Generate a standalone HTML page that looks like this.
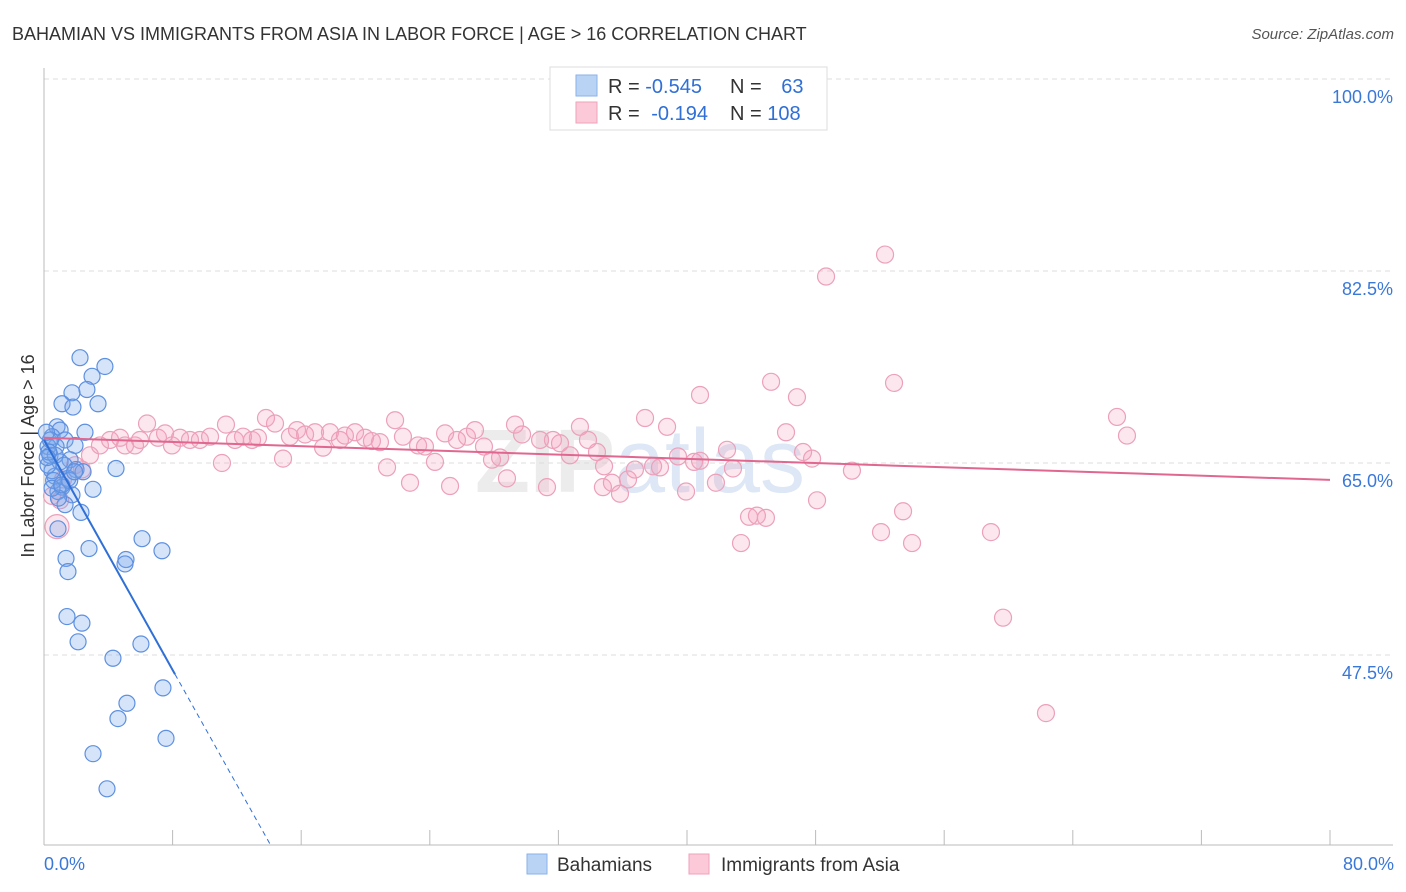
<!DOCTYPE html>
<html><head><meta charset="utf-8"><style>
body{margin:0;background:#fff;font-family:"Liberation Sans",sans-serif;}
svg{display:block}
</style></head><body>
<svg id="c" width="1406" height="892" xmlns="http://www.w3.org/2000/svg">
<text x="12" y="40" font-size="18" fill="#333">BAHAMIAN VS IMMIGRANTS FROM ASIA IN LABOR FORCE | AGE &gt; 16 CORRELATION CHART</text>
<text x="1394" y="39" font-size="15" fill="#555" font-style="italic" text-anchor="end">Source: ZipAtlas.com</text>
<text transform="translate(34,456) rotate(-90)" font-size="18" fill="#333" text-anchor="middle">In Labor Force | Age &gt; 16</text>
<text x="640" y="492" font-size="90" font-weight="bold" fill="#ececec" text-anchor="middle">ZIP<tspan fill="#dde7f5" font-weight="normal">atlas</tspan></text>
<g id="grid"></g><g id="axes"></g><g id="pts"></g><g id="lines"></g>
<g>
<rect x="550" y="67" width="277" height="63" fill="#fff" stroke="#ddd"/>
<rect x="576" y="75" width="21" height="21" fill="#b9d3f5" stroke="#8ab1ea"/>
<rect x="576" y="102" width="21" height="21" fill="#fbc9d8" stroke="#f0a2bb"/>
<text x="608" y="93" font-size="20" fill="#333">R = <tspan fill="#2f6fd6">-0.545</tspan></text>
<text x="730" y="93" font-size="20" fill="#333">N = <tspan fill="#2f6fd6" dx="14">63</tspan></text>
<text x="608" y="120" font-size="20" fill="#333">R = <tspan fill="#2f6fd6" dx="6">-0.194</tspan></text>
<text x="730" y="120" font-size="20" fill="#333">N = <tspan fill="#2f6fd6">108</tspan></text>
</g>
<g>
<rect x="527" y="854" width="20" height="20" fill="#b9d3f5" stroke="#8ab1ea"/>
<text x="557" y="871" font-size="19" fill="#333">Bahamians</text>
<rect x="689" y="854" width="20" height="20" fill="#fbc9d8" stroke="#f0a2bb"/>
<text x="721" y="871" font-size="19" fill="#333">Immigrants from Asia</text>
</g>
</svg>
<script>
const yTicks=[100,82.5,65,47.5];
const yTickLabels=["100.0%","82.5%","65.0%","47.5%"];
const xTickLabels=["0.0%","80.0%"];
const blueX=[2.24,3.79,2.99,2.67,1.74,1.12,1.80,3.36,0.81,1.00,2.55,0.50,1.31,1.93,0.75,0.25,0.37,1.62,1.99,4.48,2.43,0.68,1.49,1.12,3.05,0.87,1.74,1.31,2.30,0.87,2.80,6.10,7.34,5.10,5.04,1.37,1.49,1.43,2.36,2.12,6.03,4.29,7.40,5.16,4.60,7.59,3.05,3.92,0.5,0.6,1.0,0.25,0.4,0.7,1.25,1.6,1.9,0.15,0.9,0.5,0.3,0.2,1.1];
const blueY=[74.6,73.8,72.9,71.7,71.4,70.4,70.1,70.4,68.3,68.0,67.8,67.4,67.1,66.6,66.5,66.5,65.7,65.3,64.4,64.5,64.2,63.8,63.6,62.8,62.6,62.4,62.1,61.2,60.5,59.0,57.2,58.1,57.0,56.2,55.8,56.3,55.1,51.0,50.4,48.7,48.5,47.2,44.5,43.1,41.7,39.9,38.5,35.3,64.3,63.4,65.1,64.8,67.1,65.7,64.8,63.4,64.2,67.8,61.8,62.7,66.0,65.5,63.0];
const pinkX=[0.81,1.0,1.18,1.93,2.36,2.86,3.48,4.11,4.73,5.04,5.66,5.97,6.41,7.09,7.53,7.96,8.46,9.08,9.70,10.33,11.07,11.32,11.88,12.38,12.94,13.31,13.81,14.37,14.87,15.30,15.74,16.24,16.86,17.36,17.79,18.41,18.72,19.35,19.97,20.40,20.90,21.34,21.84,22.33,22.77,23.27,23.70,24.32,24.95,25.26,25.69,26.31,26.81,27.37,27.87,28.37,28.80,29.30,29.74,30.86,31.29,31.66,32.10,32.72,33.34,33.84,34.40,34.77,35.33,35.83,36.33,36.76,37.39,37.89,38.32,38.76,39.44,39.94,40.44,40.81,41.80,42.49,42.86,43.36,43.86,44.35,44.91,45.23,46.16,46.84,47.22,47.78,48.09,48.65,50.26,52.07,52.32,52.88,53.44,54.00,58.91,59.66,62.33,66.75,67.37,40.81,34.84,0.5];
const pinkY=[59.2,61.6,63.5,64.8,64.4,65.7,66.6,67.1,67.3,66.6,66.6,67.1,68.6,67.3,67.7,66.6,67.3,67.1,67.1,67.4,65.0,68.5,67.1,67.4,67.1,67.3,69.1,68.6,65.4,67.4,68.0,67.6,67.8,66.4,67.8,67.1,67.5,67.8,67.3,67.0,66.9,64.6,68.9,67.4,63.2,66.6,66.5,65.1,67.7,62.9,67.1,67.4,68.0,66.5,65.3,65.5,63.6,68.5,67.6,67.1,62.8,67.1,66.8,65.7,68.3,67.1,66.0,62.8,63.2,62.2,63.5,64.4,69.1,64.7,64.6,68.3,65.6,62.4,65.1,71.2,63.2,66.2,64.5,57.7,60.1,60.2,60.0,72.4,67.8,71.0,66.0,65.4,61.6,82.0,64.3,58.7,84.0,72.3,60.6,57.7,58.7,50.9,42.2,69.2,67.5,65.2,64.7,62.0];
const blueTrend=[67.1,-2.62];
const pinkTrend=[67.3,-0.048];
const X=v=>44+v*16.075, Y=v=>463-(v-65)*10.97;
const NS="http://www.w3.org/2000/svg";
function mk(t,a,p){const e=document.createElementNS(NS,t);for(const k in a)e.setAttribute(k,a[k]);p.appendChild(e);return e;}
const grid=document.getElementById('grid'),axes=document.getElementById('axes'),pts=document.getElementById('pts'),lines=document.getElementById('lines');
yTicks.forEach((t,i)=>{
 const g=mk('line',{x1:44,x2:1393,y1:Y(t),y2:Y(t),stroke:'#ddd','stroke-dasharray':'5,4'},grid);
 
 
 const l=mk('text',{x:1393,y:Y(t)+24,'font-size':18,fill:'#3a78d8','text-anchor':'end'},axes);
 l.textContent=yTickLabels[i];
 
 
});
const ya=mk('line',{x1:44,x2:44,y1:68,y2:845,stroke:'#bbb'},axes);


const xa=mk('line',{x1:44,x2:1393,y1:845,y2:845,stroke:'#bbb'},axes);


for(let i=1;i<=10;i++){const t=mk('line',{x1:X(i*8),x2:X(i*8),y1:830,y2:845,stroke:'#bbb'},axes);
 
 }
[[0,'start',44],[80,'end',1394]].forEach((d,i)=>{const t=mk('text',{x:d[2],y:870,'font-size':18,fill:'#3a78d8','text-anchor':d[1]},axes);t.textContent=xTickLabels[i];
 
 });
pinkX.forEach((x,i)=>{const c=mk('circle',{cx:X(x),cy:Y(pinkY[i]),r:i===0?12:8.5,fill:'rgba(243,160,188,0.25)',stroke:'#eca0ba','stroke-width':1.2},pts);
 
 });
blueX.forEach((x,i)=>{const c=mk('circle',{cx:X(x),cy:Y(blueY[i]),r:8,fill:'rgba(120,165,235,0.3)',stroke:'#5d90e0','stroke-width':1.2},pts);
 
 });
const bEnd=8.15, bZero=14.06;
const b1=mk('line',{x1:X(0),y1:Y(blueTrend[0]),x2:X(bEnd),y2:Y(blueTrend[0]+blueTrend[1]*bEnd),stroke:'#2f6fd6','stroke-width':2},lines);


const b2=mk('line',{x1:X(bEnd),y1:Y(blueTrend[0]+blueTrend[1]*bEnd),x2:X(bZero),y2:Y(blueTrend[0]+blueTrend[1]*bZero),stroke:'#2f6fd6','stroke-width':1,'stroke-dasharray':'5,4'},lines);


const p1=mk('line',{x1:X(0),y1:Y(pinkTrend[0]),x2:X(80),y2:Y(pinkTrend[0]+pinkTrend[1]*80),stroke:'#e0678f','stroke-width':2},lines);


</script>
</body></html>
